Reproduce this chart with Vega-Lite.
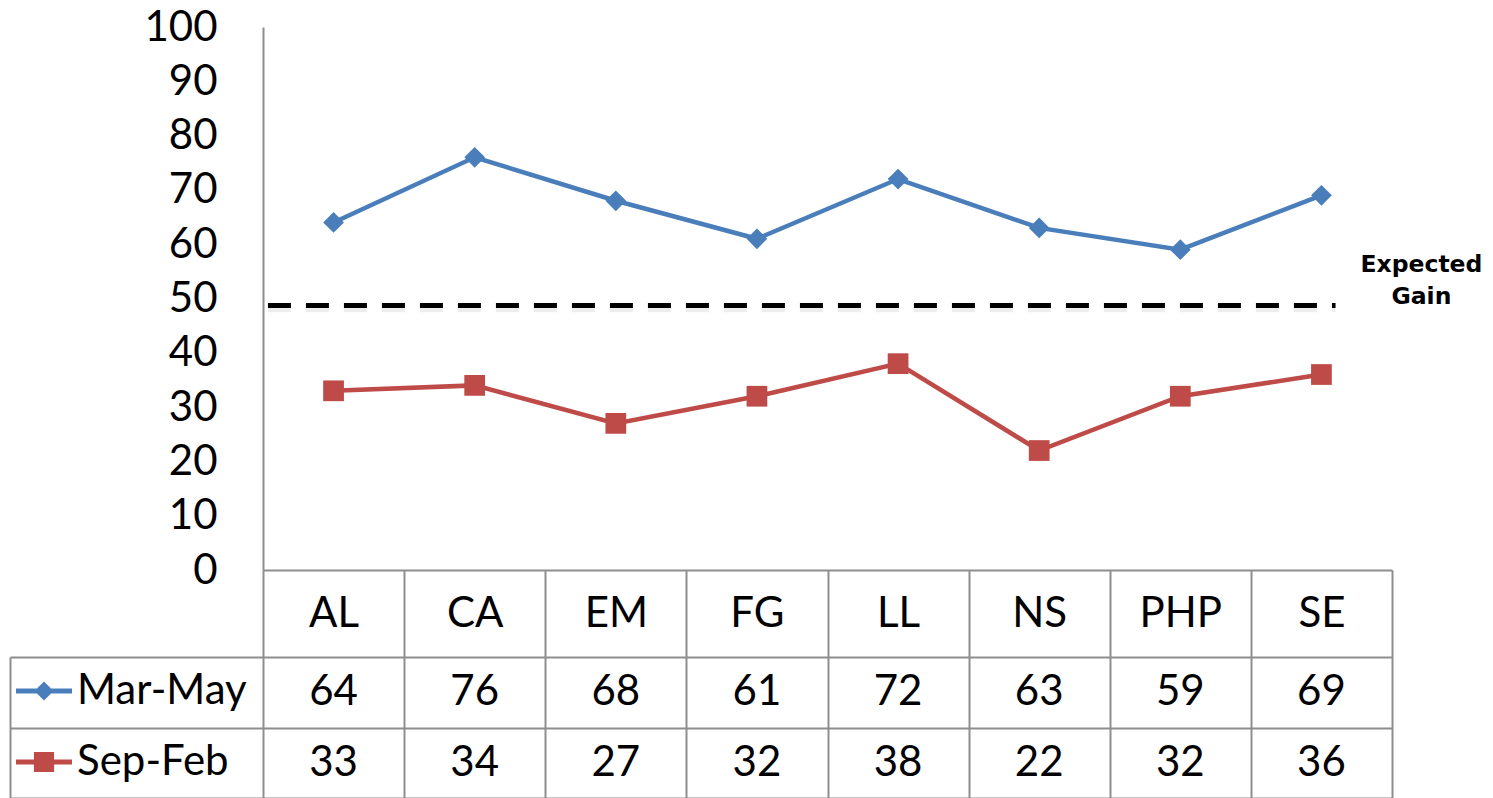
{
  "$schema": "https://vega.github.io/schema/vega-lite/v6.json",
  "width": 1129,
  "height": 543,
  "autosize": {"type": "none"},
  "padding": {"left": 263, "top": 27, "right": 101, "bottom": 228},
  "background": "white",
  "config": {"view": {"stroke": null}, "font": "Lato"},
  "data": {
    "values": [
      {"cat": "AL", "series": "Mar-May", "value": 64},
      {"cat": "CA", "series": "Mar-May", "value": 76},
      {"cat": "EM", "series": "Mar-May", "value": 68},
      {"cat": "FG", "series": "Mar-May", "value": 61},
      {"cat": "LL", "series": "Mar-May", "value": 72},
      {"cat": "NS", "series": "Mar-May", "value": 63},
      {"cat": "PHP", "series": "Mar-May", "value": 59},
      {"cat": "SE", "series": "Mar-May", "value": 69},
      {"cat": "AL", "series": "Sep-Feb", "value": 33},
      {"cat": "CA", "series": "Sep-Feb", "value": 34},
      {"cat": "EM", "series": "Sep-Feb", "value": 27},
      {"cat": "FG", "series": "Sep-Feb", "value": 32},
      {"cat": "LL", "series": "Sep-Feb", "value": 38},
      {"cat": "NS", "series": "Sep-Feb", "value": 22},
      {"cat": "PHP", "series": "Sep-Feb", "value": 32},
      {"cat": "SE", "series": "Sep-Feb", "value": 36}
    ]
  },
  "encoding": {
    "x": {
      "field": "cat",
      "type": "nominal",
      "sort": null,
      "scale": {"paddingInner": 0, "paddingOuter": 0},
      "axis": {
        "title": null,
        "domainColor": "#8E8E8E",
        "domainWidth": 2,
        "ticks": true,
        "tickBand": "extent",
        "tickSize": 228,
        "tickColor": "#8E8E8E",
        "tickWidth": 2,
        "labelFont": "Lato",
        "labelFontSize": 42,
        "labelColor": "black",
        "labelAngle": 0,
        "labelBaseline": "middle",
        "labelPadding": -185,
        "grid": false
      }
    }
  },
  "layer": [
    {
      "encoding": {
        "y": {
          "field": "value",
          "type": "quantitative",
          "scale": {"domain": [0, 100]},
          "axis": {
            "title": null,
            "values": [0, 10, 20, 30, 40, 50, 60, 70, 80, 90, 100],
            "ticks": false,
            "grid": false,
            "domainColor": "#8E8E8E",
            "domainWidth": 2,
            "labelFont": "Lato",
            "labelFontSize": 42,
            "labelColor": "black",
            "labelPadding": 46
          }
        }
      },
      "layer": [
        {
          "mark": {"type": "line", "strokeWidth": 4.5},
          "encoding": {
            "color": {
              "field": "series",
              "type": "nominal",
              "scale": {"domain": ["Mar-May", "Sep-Feb"], "range": ["#4A7EBB", "#BE4B48"]},
              "legend": null
            }
          }
        },
        {
          "mark": {"type": "point", "filled": true, "opacity": 1, "size": 430},
          "encoding": {
            "color": {
              "field": "series",
              "type": "nominal",
              "scale": {"domain": ["Mar-May", "Sep-Feb"], "range": ["#4A7EBB", "#BE4B48"]},
              "legend": null
            },
            "shape": {
              "field": "series",
              "type": "nominal",
              "scale": {"domain": ["Mar-May", "Sep-Feb"], "range": ["diamond", "square"]},
              "legend": null
            }
          }
        },
        {
          "data": {"values": [{"label": "Expected Gain shadow", "level": 48.0}]},
          "mark": {"type": "rule", "strokeDash": [23, 15], "strokeWidth": 6, "color": "black", "opacity": 0.07},
          "encoding": {
            "x": {"datum": "AL", "bandPosition": 0.035},
            "x2": {"datum": "SE", "bandPosition": 0.6},
            "y": {"field": "level", "type": "quantitative"}
          }
        },
        {
          "data": {"values": [{"label": "Expected Gain", "level": 48.7}]},
          "mark": {"type": "rule", "strokeDash": [23, 15], "strokeWidth": 5, "color": "black"},
          "encoding": {
            "x": {"datum": "AL", "bandPosition": 0.035},
            "x2": {"datum": "SE", "bandPosition": 0.6},
            "y": {"field": "level", "type": "quantitative"}
          }
        },
        {
          "data": {"values": [{"label": "Expected\nGain", "level": 56.2}]},
          "mark": {
            "type": "text",
            "font": "DejaVu Sans",
            "fontWeight": "bold",
            "fontSize": 23.5,
            "lineHeight": 32,
            "lineBreak": "\n",
            "align": "center",
            "baseline": "middle",
            "dx": 100,
            "color": "black"
          },
          "encoding": {
            "x": {"datum": "SE"},
            "y": {"field": "level", "type": "quantitative"},
            "text": {"field": "label"}
          }
        }
      ]
    },
    {
      "mark": {
        "type": "text",
        "font": "Lato",
        "fontSize": 42,
        "color": "black",
        "align": "center",
        "baseline": "middle"
      },
      "encoding": {
        "y": {
          "field": "series",
          "type": "nominal",
          "sort": null,
          "scale": {
            "type": "band",
            "domain": ["Mar-May", "Sep-Feb"],
            "range": [630, 771],
            "paddingInner": 0,
            "paddingOuter": 0
          },
          "axis": {
            "orient": "left",
            "offset": 253,
            "title": null,
            "labels": false,
            "domain": true,
            "domainColor": "#8E8E8E",
            "domainWidth": 2,
            "ticks": true,
            "tickBand": "extent",
            "tickSize": -253,
            "tickColor": "#8E8E8E",
            "tickWidth": 2,
            "grid": true,
            "gridColor": "#8E8E8E",
            "gridWidth": 2,
            "gridOpacity": 1
          }
        },
        "text": {"field": "value", "type": "quantitative"}
      }
    },
    {
      "transform": [{"filter": "false"}],
      "mark": {"type": "point", "filled": true, "opacity": 1},
      "encoding": {
        "color": {
          "field": "series",
          "type": "nominal",
          "scale": {"domain": ["Mar-May", "Sep-Feb"], "range": ["#4A7EBB", "#BE4B48"]},
          "legend": {
            "title": null,
            "orient": "none",
            "legendX": -247,
            "legendY": 636,
            "direction": "vertical",
            "symbolSize": 3136,
            "symbolStrokeWidth": 0,
            "symbolOpacity": 1,
            "labelFont": "Lato",
            "labelFontSize": 42,
            "labelColor": "black",
            "labelOffset": 5,
            "labelLimit": 400,
            "rowPadding": 22,
            "padding": 0
          }
        },
        "shape": {
          "field": "series",
          "type": "nominal",
          "scale": {
            "domain": ["Mar-May", "Sep-Feb"],
            "range": [
              "M-1,-0.09H1V0.09H-1ZM-0.34,0L0,-0.34L0.34,0L0,0.34Z",
              "M-1,-0.09H1V0.09H-1ZM-0.36,-0.36H0.36V0.36H-0.36Z"
            ]
          },
          "legend": {
            "title": null,
            "orient": "none",
            "legendX": -247,
            "legendY": 636,
            "direction": "vertical",
            "symbolSize": 3136,
            "symbolStrokeWidth": 0,
            "symbolOpacity": 1,
            "labelFont": "Lato",
            "labelFontSize": 42,
            "labelColor": "black",
            "labelOffset": 5,
            "labelLimit": 400,
            "rowPadding": 22,
            "padding": 0
          }
        }
      }
    }
  ],
  "resolve": {"scale": {"y": "independent", "shape": "independent", "color": "independent"}}
}
